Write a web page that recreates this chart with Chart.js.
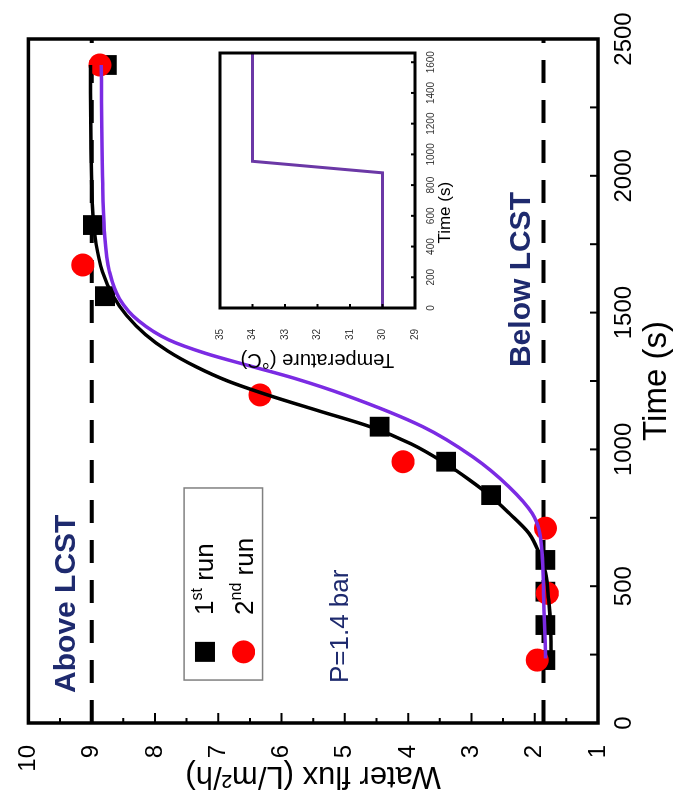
<!DOCTYPE html>
<html>
<head>
<meta charset="utf-8">
<script src="https://cdn.jsdelivr.net/npm/chart.js@4.4.1/dist/chart.umd.min.js"></script>
<style>
  html, body { margin: 0; padding: 0; background: #fff; }
  body { width: 677px; height: 791px; overflow: hidden; position: relative; }
  /* the figure is drawn upright, then turned a quarter turn to the left like the scan */
  #turn { position: absolute; left: 0; top: 0; width: 791px; height: 677px;
          transform-origin: 0 0; transform: translate(0, 791px) rotate(-90deg); }
  #flux { position: absolute; left: 0; top: 0; }
  #temp { position: absolute; left: 400px; top: 190px; }
</style>
</head>
<body>
<div id="turn">
  <canvas id="flux" width="791" height="677"></canvas>
  <canvas id="temp" width="360" height="290"></canvas>
</div>
<script>
// measured points
const run1Time = [230, 358, 480, 596, 833, 955, 1083, 1560, 1820, 2405];
const run1Flux = [1.83, 1.83, 1.83, 1.83, 2.69, 3.40, 4.45, 8.79, 8.98, 8.76];
const run2Time = [230, 474, 712, 955, 1199, 1674, 2405];
const run2Flux = [1.96, 1.80, 1.83, 4.08, 6.34, 9.14, 8.87];

// fitted curves
const fit1Time = [236, 350, 450, 550, 620, 693, 766, 830, 890, 950, 1020, 1083, 1140, 1199, 1250, 1302, 1360, 1420, 1490, 1560, 1650, 1750, 1900, 2100, 2405];
const fit1Flux = [1.74, 1.75, 1.78, 1.83, 1.93, 2.09, 2.40, 2.70, 3.04, 3.42, 3.95, 4.60, 5.40, 6.22, 6.85, 7.35, 7.80, 8.15, 8.45, 8.66, 8.83, 8.93, 8.99, 9.01, 9.02];
const fit2Time = [236, 474, 693, 766, 864, 973, 1083, 1199, 1260, 1302, 1351, 1400, 1470, 1550, 1650, 1800, 2000, 2405];
const fit2Flux = [1.83, 1.86, 1.92, 2.04, 2.41, 2.98, 3.77, 5.00, 5.80, 6.45, 7.20, 7.78, 8.26, 8.56, 8.72, 8.80, 8.83, 8.85];

// LCST guide lines
const lcstTime = [0, 2500];
const aboveFlux = [9.0, 9.0];
const belowFlux = [1.86, 1.86];

const timeTicks = [0, 500, 1000, 1500, 2000, 2500];
const fluxTicks = [1, 2, 3, 4, 5, 6, 7, 8, 9, 10];

// inset: temperature program
const insetTime = [0, 880, 955, 1660];
const insetTemp = [30, 30, 34, 34];
const insetTimeTicks = [0, 200, 400, 600, 800, 1000, 1200, 1400, 1600];
const insetTempTicks = [29, 30, 31, 32, 33, 34, 35];

const family = "'Liberation Sans', Arial, sans-serif";
const navy = '#1e2a6e';
const pairs = (xs, ys) => xs.map((v, i) => ({ x: v, y: ys[i] }));
const asTicks = (arr) => (s) => { s.ticks = arr.map(value => ({ value })); };

function framePlugin(xMarks, yMarks, width) {
  return {
    id: 'frame',
    afterDatasetsDraw(chart) {
      const { ctx, chartArea: a, scales: { x, y } } = chart;
      ctx.save();
      ctx.strokeStyle = '#000';
      ctx.lineWidth = 2;
      ctx.beginPath();
      xMarks.forEach(([v, len]) => {
        const px = x.getPixelForValue(v);
        ctx.moveTo(px, a.bottom); ctx.lineTo(px, a.bottom - len);
      });
      yMarks.forEach(([v, len]) => {
        const py = y.getPixelForValue(v);
        ctx.moveTo(a.left, py); ctx.lineTo(a.left + len, py);
      });
      ctx.stroke();
      ctx.lineWidth = width;
      ctx.strokeRect(a.left, a.top, a.right - a.left, a.bottom - a.top);
      ctx.restore();
    }
  };
}

function supLabel(ctx, px, py, num, sup, rest) {
  ctx.font = `26px ${family}`;
  ctx.fillText(num, px, py);
  let w = ctx.measureText(num).width;
  ctx.font = `16px ${family}`;
  ctx.fillText(sup, px + w, py - 9);
  w += ctx.measureText(sup).width;
  ctx.font = `26px ${family}`;
  ctx.fillText(rest, px + w, py);
}

const notes = {
  id: 'notes',
  afterDatasetsDraw(chart) {
    const { ctx, scales: { x, y } } = chart;
    ctx.save();
    ctx.textBaseline = 'middle';
    ctx.textAlign = 'left';
    ctx.fillStyle = navy;
    ctx.font = `bold 30px ${family}`;
    ctx.fillText('Above LCST', x.getPixelForValue(110), y.getPixelForValue(9.40));
    ctx.fillText('Below LCST', x.getPixelForValue(1301), y.getPixelForValue(2.21));
    ctx.font = `26px ${family}`;
    ctx.fillText('P=1.4 bar', x.getPixelForValue(146), y.getPixelForValue(5.07));

    // legend box
    const l = x.getPixelForValue(157), r = x.getPixelForValue(859);
    const t = y.getPixelForValue(7.54), b = y.getPixelForValue(6.30);
    ctx.strokeStyle = '#808080';
    ctx.lineWidth = 1.5;
    ctx.strokeRect(l, t, r - l, b - t);
    const mx = x.getPixelForValue(260);
    const sy = y.getPixelForValue(7.21), cy = y.getPixelForValue(6.60);
    ctx.fillStyle = '#000';
    ctx.fillRect(mx - 10, sy - 10, 20, 20);
    ctx.fillStyle = '#ff0000';
    ctx.beginPath(); ctx.arc(mx, cy, 11.5, 0, Math.PI * 2); ctx.fill();
    ctx.fillStyle = '#000';
    supLabel(ctx, x.getPixelForValue(395), y.getPixelForValue(7.19), '1', 'st', ' run');
    supLabel(ctx, x.getPixelForValue(395), y.getPixelForValue(6.57), '2', 'nd', ' run');
    ctx.restore();
  }
};

const mainX = [];
for (let t = 0; t <= 2500; t += 250) mainX.push([t, 8]);
const mainY = [];
for (let f = 1; f <= 10; f += 0.5) mainY.push([f, Number.isInteger(f) ? 10 : 5]);

new Chart(document.getElementById('flux'), {
  type: 'scatter',
  data: {
    datasets: [
      { type: 'line', data: pairs(fit2Time, fit2Flux), borderColor: '#7b2be3', borderWidth: 3.5,
        pointRadius: 0, cubicInterpolationMode: 'monotone', fill: false },
      { type: 'line', data: pairs(fit1Time, fit1Flux), borderColor: '#000', borderWidth: 3.5,
        pointRadius: 0, cubicInterpolationMode: 'monotone', fill: false },
      { label: '2nd run', data: pairs(run2Time, run2Flux), pointStyle: 'circle', pointRadius: 11.5,
        pointBackgroundColor: '#ff0000', pointBorderWidth: 0 },
      { label: '1st run', data: pairs(run1Time, run1Flux), pointStyle: 'rect', pointRadius: 14,
        pointBackgroundColor: '#000', pointBorderWidth: 0 },
      { type: 'line', data: pairs(lcstTime, aboveFlux), borderColor: '#000', borderWidth: 4,
        borderDash: [23, 17], pointRadius: 0, fill: false },
      { type: 'line', data: pairs(lcstTime, belowFlux), borderColor: '#000', borderWidth: 4,
        borderDash: [23, 17], pointRadius: 0, fill: false }
    ]
  },
  options: {
    responsive: false,
    animation: false,
    devicePixelRatio: 1,
    layout: { padding: { left: 0, top: 27, right: 39, bottom: 0 } },
    plugins: { legend: { display: false }, tooltip: { enabled: false } },
    scales: {
      x: {
        type: 'linear', min: 0, max: 2500,
        grid: { display: false }, border: { display: false },
        afterBuildTicks: asTicks(timeTicks),
        afterFit: (s) => { s.height = 79; },
        ticks: { color: '#000', font: { family, size: 24 }, padding: 4, autoSkip: false, maxRotation: 0,
                 callback: (v) => String(v) },
        title: { display: true, text: 'Time (s)', color: '#000', font: { family, size: 33, lineHeight: 1 },
                 padding: { top: 0, bottom: 4 } }
      },
      y: {
        type: 'linear', min: 1, max: 10,
        grid: { display: false }, border: { display: false },
        afterBuildTicks: asTicks(fluxTicks),
        afterFit: (s) => { s.width = 68; },
        ticks: { color: '#000', font: { family, size: 24 }, padding: 14, autoSkip: false,
                 callback: (v) => String(v) },
        title: { display: true, text: 'Water flux (L/m²/h)', color: '#000', font: { family, size: 31, lineHeight: 1 },
                 padding: { top: 0, bottom: 0 } }
      }
    }
  },
  plugins: [framePlugin(mainX, mainY, 3.5), notes]
});

// inset
const insetNote = {
  id: 'insetNote',
  afterDatasetsDraw(chart) {
    const { ctx, chartArea: a, scales: { x } } = chart;
    ctx.save();
    ctx.fillStyle = '#000';
    ctx.font = `17px ${family}`;
    ctx.textAlign = 'center';
    ctx.textBaseline = 'middle';
    ctx.fillText('Time (s)', x.getPixelForValue(620), a.bottom + 30);
    ctx.restore();
  }
};

const insX = insetTimeTicks.map(t => [t, 4]);
const insY = insetTempTicks.map(t => [t, 4]);

new Chart(document.getElementById('temp'), {
  type: 'line',
  data: {
    datasets: [
      { data: pairs(insetTime, insetTemp), borderColor: '#6b38a6', borderWidth: 3, pointRadius: 0, tension: 0, fill: false }
    ]
  },
  options: {
    responsive: false,
    animation: false,
    devicePixelRatio: 1,
    layout: { padding: { left: 0, top: 30, right: 22, bottom: 0 } },
    plugins: { legend: { display: false }, tooltip: { enabled: false } },
    scales: {
      x: {
        type: 'linear', min: 0, max: 1660,
        grid: { display: false }, border: { display: false },
        afterBuildTicks: asTicks(insetTimeTicks),
        afterFit: (s) => { s.height = 65; },
        ticks: { color: '#333', font: { family, size: 10 }, padding: 2, autoSkip: false, maxRotation: 0,
                 callback: (v) => String(v) }
      },
      y: {
        type: 'linear', min: 29, max: 35,
        grid: { display: false }, border: { display: false },
        afterBuildTicks: asTicks(insetTempTicks),
        afterFit: (s) => { s.width = 83; },
        ticks: { color: '#333', font: { family, size: 10 }, padding: 13, autoSkip: false,
                 callback: (v) => String(v) },
        title: { display: true, text: 'Temperature (°C)', color: '#000', font: { family, size: 20, lineHeight: 1 },
                 padding: { top: 21, bottom: 0 } }
      }
    }
  },
  plugins: [framePlugin(insX, insY, 3), insetNote]
});
</script>
</body>
</html>
